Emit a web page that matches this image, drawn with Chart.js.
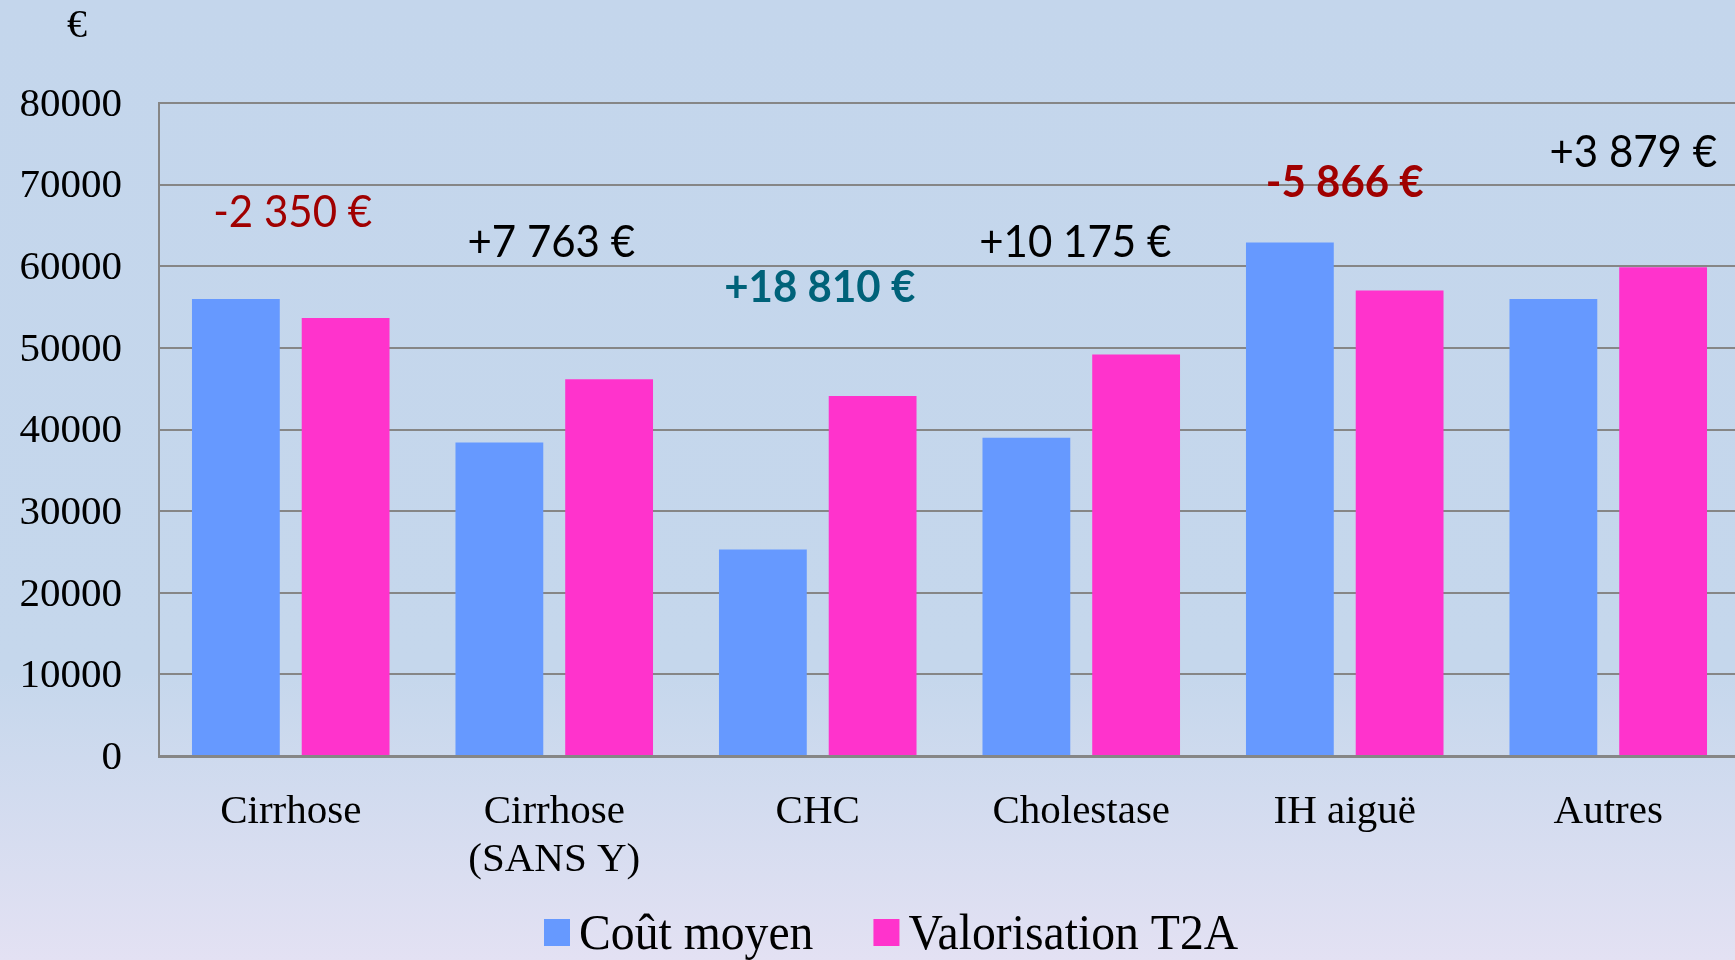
<!DOCTYPE html>
<html><head><meta charset="utf-8">
<script src="https://cdn.jsdelivr.net/npm/chart.js@4.4.1/dist/chart.umd.min.js"></script>
<style>
html,body{margin:0;padding:0;width:1735px;height:960px;overflow:hidden;
background:linear-gradient(to bottom,#c4d6ec 0%,#c5d7ec 70%,#e3e1f3 100%);}
#wrap{position:absolute;left:0;top:0;width:1740px;height:960px;}
</style></head><body>
<div id="wrap"><canvas id="c"></canvas></div>
<script>
// ---- data ----
const categories = ['Cirrhose', ['Cirrhose', '(SANS Y)'], 'CHC', 'Cholestase', 'IH aiguë', 'Autres'];
const coutMoyen = [56000, 38400, 25300, 39000, 62900, 56000];
const valorisationT2A = [53650, 46163, 44110, 49175, 57034, 59879];
const ecartLabels = ['-2 350 €', '+7 763 €', '+18 810 €', '+10 175 €', '-5 866 €', '+3 879 €'];
const yTickValues = [0, 10000, 20000, 30000, 40000, 50000, 60000, 70000, 80000];
const yUnit = '€';

// ---- annotation layout (positions / styles) ----
const ecartLayout = {
  dx: [2, -3, 2, -6, 0, 25],
  baseVal: [64800, 61100, 55600, 61100, 68500, 72200],
  color: ['#a00000', '#000000', '#006279', '#000000', '#a00000', '#000000'],
  bold: [false, false, true, false, true, false]
};

const overlay = {
  id: 'overlay',
  afterDraw(chart) {
    const ctx = chart.ctx;
    const xs = chart.scales.x, ys = chart.scales.y;
    // y unit
    ctx.save();
    ctx.fillStyle = '#000';
    ctx.font = '40px "Liberation Serif", serif';
    ctx.textAlign = 'center';
    ctx.textBaseline = 'alphabetic';
    ctx.fillText(yUnit, 77, 37);
    ctx.restore();
    // ecart annotations
    ecartLabels.forEach((t, i) => {
      const x = xs.getPixelForValue(i) + ecartLayout.dx[i];
      const y = ys.getPixelForValue(ecartLayout.baseVal[i]);
      ctx.save();
      ctx.fillStyle = ecartLayout.color[i];
      ctx.font = (ecartLayout.bold[i] ? 'bold ' : '') + '44px Lato, "Open Sans", sans-serif';
      ctx.textAlign = 'center';
      ctx.textBaseline = 'alphabetic';
      ctx.translate(x, y);
      ctx.scale(0.955, 1);
      ctx.fillText(t, 0, 0);
      ctx.restore();
    });
    // legend
    ctx.save();
    ctx.font = '51px "Liberation Serif", serif';
    ctx.textBaseline = 'alphabetic';
    ctx.textAlign = 'left';
    let x = 544;
    const sx = 0.935;
    chart.data.datasets.forEach(ds => {
      ctx.fillStyle = ds.backgroundColor;
      ctx.fillRect(x, 919, 26, 27);
      x += 35;
      ctx.fillStyle = '#000';
      ctx.save();
      ctx.translate(x, 949);
      ctx.scale(sx, 1);
      ctx.fillText(ds.label, 0, 0);
      ctx.restore();
      x += ctx.measureText(ds.label).width * sx + 60;
    });
    ctx.restore();
  }
};

new Chart(document.getElementById('c'), {
  type: 'bar',
  data: {
    labels: categories,
    datasets: [
      { label: 'Coût moyen', data: coutMoyen, backgroundColor: '#6699ff', categoryPercentage: 0.833, barPercentage: 0.8 },
      { label: 'Valorisation T2A', data: valorisationT2A, backgroundColor: '#ff33cc', categoryPercentage: 0.833, barPercentage: 0.8 }
    ]
  },
  options: {
    responsive: true,
    maintainAspectRatio: false,
    animation: false,
    layout: { padding: { top: 103, right: 0, left: 0, bottom: 0 } },
    plugins: { legend: { display: false }, tooltip: { enabled: false }, title: { display: false } },
    scales: {
      x: {
        grid: { display: false, drawTicks: false },
        border: { color: '#868686', width: 3 },
        ticks: {
          color: '#000', padding: 32, maxRotation: 0, autoSkip: false,
          font: { family: '"Liberation Serif", serif', size: 41, lineHeight: 1.17 }
        },
        afterFit(s) { s.height = 204; }
      },
      y: {
        min: 0, max: 80000,
        afterBuildTicks(s) { s.ticks = yTickValues.map(v => ({ value: v })); },
        grid: { color: '#868686', lineWidth: 2, drawTicks: false },
        border: { color: '#868686', width: 2 },
        ticks: {
          color: '#000', padding: 37, labelOffset: 2,
          font: { family: '"Liberation Serif", serif', size: 41 },
          callback: v => String(v)
        },
        afterFit(s) { s.width = 159; }
      }
    }
  },
  plugins: [overlay]
});
</script>
</body></html>
